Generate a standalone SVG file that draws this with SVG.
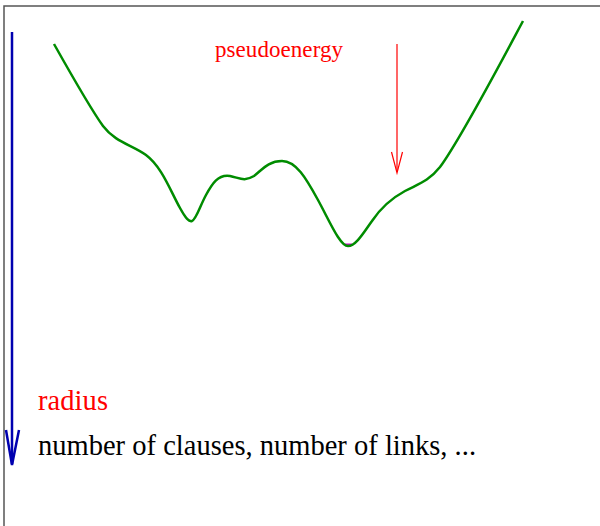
<svg xmlns="http://www.w3.org/2000/svg" width="600" height="526" viewBox="0 0 600 526">
<style>
.lbl{font-family:"Liberation Serif","Times New Roman",serif;}
.red{fill:#ff0000;}
.blk{fill:#000000;}
</style>
<rect x="0" y="0" width="600" height="526" fill="#ffffff"/>
<g id="frame" fill="none" stroke="#555555" stroke-width="1.5">
<path d="M4,526 L4,6 L600,6"/>
</g>
<g id="curve">
<path d="M345,244.5 L352,244.5" stroke="#cc00cc" stroke-width="2" fill="none"/>
<path d="M54,44 C72,76 90,108 103,126 C115,142 132,145 146,155 C162,167 170,190 180,208 C186,219 189,222 192,221 C196,220 200,206 206,195 C212,184 218,174 230,176 C240,178 244,182 254,176 C262,170 268,161 282,161 C296,161 306,178 318,200 C330,222 340,246 348,246 C356,246 364,232 372,221 C382,206 392,198 405,191 C418,184 428,182 440,167 C460,140 500,64 523,21" fill="none" stroke="#008c00" stroke-width="2.5" stroke-linejoin="round"/>
</g>
<g id="connectors">
<g id="radius-arrow" fill="none" stroke="#0000b0" stroke-width="2.5">
<path d="M12,32 L12,464"/>
<path d="M6,430 L12,465 L19,430"/>
</g>
<g id="pseudoenergy-arrow" fill="none" stroke="#ff0000" stroke-width="1.2">
<path d="M397,44 L397,172"/>
<path d="M391.5,152 L397,173 L402.5,152"/>
</g>
</g>
<g id="label-pseudoenergy"><text class="lbl red" x="215" y="57" font-size="23" textLength="128">pseudoenergy</text></g>
<g id="label-radius"><text class="lbl red" x="38" y="410" font-size="28.5" textLength="70">radius</text></g>
<g id="label-number"><text class="lbl blk" x="38" y="455" font-size="28.5" textLength="438">number of clauses, number of links, ...</text></g>
</svg>
